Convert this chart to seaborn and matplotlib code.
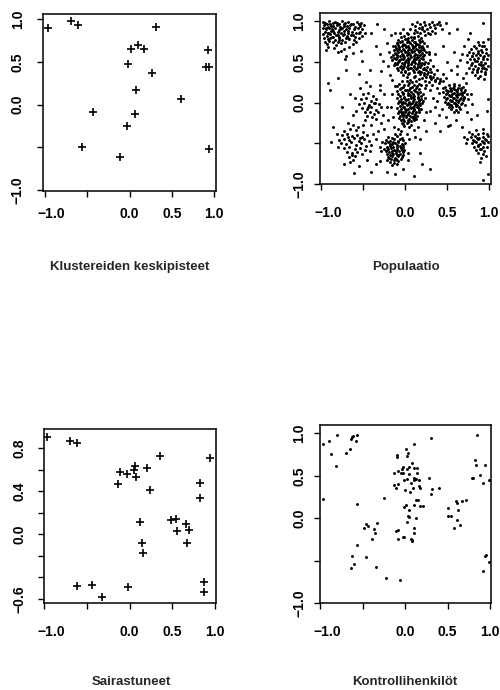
import matplotlib
matplotlib.use("Agg")
import matplotlib.pyplot as plt
import seaborn as sns
import pandas as pd
from matplotlib.transforms import ScaledTranslation

# ---------------- data ----------------
centers_x = [-0.96, -0.69, -0.61, 0.31, 0.10, 0.02, 0.17, 0.92, -0.02, 0.26,
             0.90, 0.94, 0.08, 0.61, -0.43, 0.06, -0.03, -0.56, 0.94, -0.11]
centers_y = [0.90, 0.98, 0.93, 0.91, 0.70, 0.65, 0.65, 0.64, 0.47, 0.37,
             0.44, 0.44, 0.17, 0.07, -0.09, -0.11, -0.25, -0.50, -0.52, -0.61]

cases_x = [-0.96, -0.70, -0.62, 0.35, 0.94, 0.06, 0.05, -0.11, -0.03, 0.20, 0.07,
           -0.13, 0.82, 0.24, 0.82, 0.12, 0.48, 0.54, 0.55, 0.66, 0.69, 0.14,
           0.16, 0.67, -0.62, -0.44, -0.32, -0.02, 0.87, 0.87]
cases_y = [0.91, 0.87, 0.85, 0.73, 0.71, 0.64, 0.60, 0.58, 0.56, 0.62, 0.53,
           0.47, 0.48, 0.41, 0.34, 0.11, 0.13, 0.14, 0.03, 0.10, 0.04, -0.08,
           -0.17, -0.08, -0.48, -0.47, -0.58, -0.49, -0.44, -0.54]

controls = [
    (-0.96, 0.87), (-0.90, 0.91), (-0.87, 0.76), (-0.80, 0.98), (-0.81, 0.62),
    (-0.69, 0.77), (-0.65, 0.82), (-0.64, 0.94), (-0.62, 0.96), (-0.61, 0.97),
    (-0.58, 0.91), (-0.56, 0.98), (-0.96, 0.23), (-0.56, 0.17), (-0.25, 0.24),
    (-0.48, -0.11), (-0.46, -0.07), (-0.43, -0.09), (-0.36, -0.13), (-0.33, -0.06),
    (-0.35, -0.18), (-0.39, -0.25), (-0.57, -0.32), (-0.62, -0.45), (-0.60, -0.54),
    (-0.46, -0.46), (-0.64, -0.59), (-0.34, -0.58), (-0.23, -0.70), (-0.06, -0.73),
    (0.10, 0.88), (0.30, 0.95), (0.01, 0.82), (0.03, 0.77), (0.02, 0.73),
    (-0.10, 0.75), (-0.09, 0.72), (-0.04, 0.58), (-0.02, 0.61), (0.02, 0.58),
    (0.05, 0.61), (0.08, 0.65), (0.11, 0.59), (0.14, 0.59), (0.14, 0.53),
    (-0.13, 0.53), (-0.08, 0.56), (-0.05, 0.53), (-0.03, 0.53), (0.05, 0.52),
    (0.10, 0.47), (0.13, 0.46), (0.16, 0.45), (-0.13, 0.39), (-0.11, 0.36),
    (-0.08, 0.40), (-0.01, 0.45), (0.02, 0.46), (0.07, 0.42), (0.11, 0.45),
    (0.00, 0.33), (0.06, 0.31), (0.09, 0.36), (0.16, 0.38), (0.18, 0.36),
    (0.28, 0.47), (0.30, 0.29), (0.32, 0.35), (0.40, 0.36), (-0.01, 0.13),
    (0.01, 0.16), (0.05, 0.10), (0.11, 0.16), (0.13, 0.21), (0.15, 0.22),
    (0.18, 0.15), (0.21, 0.15), (0.03, 0.03), (0.05, 0.01), (0.02, -0.04),
    (0.13, 0.00), (-0.11, -0.15), (-0.08, -0.14), (-0.08, -0.25), (-0.03, -0.22),
    (-0.01, -0.22), (0.07, -0.24), (0.08, -0.27), (0.11, -0.17), (0.11, -0.12),
    (0.08, -0.26), (0.51, 0.12), (0.50, 0.03), (0.54, 0.03), (0.60, 0.20),
    (0.61, 0.18), (0.62, 0.10), (0.67, 0.20), (0.72, 0.22), (0.61, -0.02),
    (0.58, -0.11), (0.64, -0.08), (0.84, 0.98), (0.82, 0.69), (0.83, 0.63),
    (0.94, 0.63), (0.79, 0.48), (0.80, 0.47), (0.88, 0.51), (0.92, 0.41),
    (0.99, 0.45), (0.94, -0.45), (0.95, -0.43), (0.99, -0.52), (0.92, -0.62),
]

pop_nw = [
    (-0.97, 0.99), (-0.93, 0.97), (-0.90, 1.00), (-0.86, 0.98), (-0.83, 0.99), (-0.79, 0.96),
    (-0.75, 1.00), (-0.71, 0.98), (-0.68, 0.99), (-0.62, 0.97), (-0.57, 0.99), (-0.52, 0.98),
    (-0.96, 0.95), (-0.92, 0.93), (-0.89, 0.96), (-0.85, 0.94), (-0.81, 0.95), (-0.77, 0.93),
    (-0.73, 0.96), (-0.69, 0.94), (-0.65, 0.95), (-0.60, 0.93), (-0.55, 0.96), (-0.49, 0.95),
    (-0.98, 0.92), (-0.94, 0.90), (-0.90, 0.92), (-0.87, 0.90), (-0.83, 0.91), (-0.79, 0.89),
    (-0.75, 0.92), (-0.70, 0.90), (-0.66, 0.91), (-0.61, 0.90), (-0.56, 0.92), (-0.51, 0.90),
    (-0.95, 0.87), (-0.92, 0.86), (-0.88, 0.88), (-0.84, 0.85), (-0.80, 0.87), (-0.76, 0.86),
    (-0.72, 0.88), (-0.68, 0.85), (-0.63, 0.87), (-0.58, 0.86), (-0.53, 0.87), (-0.48, 0.85),
    (-0.97, 0.84), (-0.93, 0.82), (-0.89, 0.84), (-0.86, 0.81), (-0.82, 0.83), (-0.78, 0.81),
    (-0.74, 0.83), (-0.69, 0.82), (-0.64, 0.83), (-0.59, 0.81), (-0.51, 0.82),
    (-0.96, 0.79), (-0.91, 0.78), (-0.87, 0.80), (-0.83, 0.77), (-0.79, 0.79), (-0.75, 0.77),
    (-0.70, 0.79), (-0.66, 0.78), (-0.61, 0.77), (-0.55, 0.79),
    (-0.95, 0.75), (-0.90, 0.76), (-0.85, 0.74), (-0.80, 0.75), (-0.71, 0.75), (-0.62, 0.72),
    (-0.93, 0.72), (-0.82, 0.71), (-0.76, 0.73), (-0.58, 0.74),
    (-0.91, 0.68), (-0.84, 0.67), (-0.73, 0.66), (-0.66, 0.68),
    (-0.94, 0.64), (-0.80, 0.62), (-0.62, 0.61), (-0.76, 0.63), (-0.70, 0.57),
    (-0.71, 0.53), (-0.52, 0.63), (-0.51, 0.51), (-0.33, 0.96), (-0.91, 0.24), (-0.89, 0.15),
    (-0.95, 0.975), (-0.88, 0.945), (-0.81, 0.975), (-0.73, 0.945), (-0.64, 0.965), (-0.94, 0.915),
    (-0.85, 0.885), (-0.77, 0.905), (-0.68, 0.875), (-0.91, 0.855), (-0.80, 0.825), (-0.72, 0.845),
    (-0.62, 0.825), (-0.89, 0.795), (-0.78, 0.765), (-0.68, 0.795), (-0.54, 0.935), (-0.55, 0.855),
]

pop_b = [
    (-0.05, 0.80), (-0.01, 0.82), (0.03, 0.79), (0.07, 0.81), (0.11, 0.80), (0.15, 0.82), (0.19, 0.79),
    (-0.08, 0.77), (-0.04, 0.76), (0.00, 0.78), (0.04, 0.76), (0.08, 0.77), (0.12, 0.75), (0.16, 0.77),
    (0.20, 0.76), (-0.10, 0.73), (-0.06, 0.74), (-0.02, 0.72), (0.02, 0.74), (0.06, 0.73), (0.10, 0.74),
    (0.14, 0.72), (0.18, 0.74), (0.22, 0.73), (-0.12, 0.70), (-0.08, 0.71), (-0.04, 0.69), (0.00, 0.71),
    (0.04, 0.70), (0.08, 0.71), (0.12, 0.69), (0.16, 0.71), (0.20, 0.70), (-0.11, 0.67), (-0.07, 0.68),
    (-0.03, 0.66), (0.01, 0.68), (0.05, 0.67), (0.09, 0.68), (0.13, 0.66), (0.17, 0.68), (0.21, 0.67),
    (-0.13, 0.64), (-0.09, 0.65), (-0.05, 0.63), (-0.01, 0.65), (0.03, 0.64), (0.07, 0.65), (0.11, 0.63),
    (0.15, 0.65), (0.19, 0.64), (0.23, 0.65), (-0.12, 0.61), (-0.08, 0.62), (-0.04, 0.60), (0.00, 0.62),
    (0.04, 0.61), (0.08, 0.62), (0.12, 0.60), (0.16, 0.62), (0.20, 0.61), (-0.14, 0.58), (-0.10, 0.59),
    (-0.06, 0.57), (-0.02, 0.59), (0.02, 0.58), (0.06, 0.59), (0.10, 0.57), (0.14, 0.59), (0.18, 0.58),
    (0.22, 0.59), (-0.13, 0.55), (-0.09, 0.56), (-0.05, 0.54), (-0.01, 0.56), (0.03, 0.55), (0.07, 0.56),
    (0.11, 0.54), (0.15, 0.56), (0.19, 0.55), (-0.15, 0.52), (-0.11, 0.53), (-0.07, 0.51), (-0.03, 0.53),
    (0.01, 0.52), (0.05, 0.53), (0.09, 0.51), (0.13, 0.53), (0.17, 0.52), (0.21, 0.53), (-0.12, 0.49),
    (-0.08, 0.50), (-0.04, 0.48), (0.00, 0.50), (0.04, 0.49), (0.08, 0.50), (0.12, 0.48), (0.16, 0.50),
    (0.20, 0.49), (0.24, 0.50), (-0.13, 0.46), (-0.09, 0.47), (-0.05, 0.45), (-0.01, 0.47), (0.03, 0.46),
    (0.07, 0.47), (0.11, 0.45), (0.15, 0.47), (0.19, 0.46), (0.23, 0.47), (-0.10, 0.43), (-0.06, 0.44),
    (-0.02, 0.42), (0.02, 0.44), (0.06, 0.43), (0.10, 0.44), (0.14, 0.42), (0.18, 0.44), (0.22, 0.43),
    (0.26, 0.44), (-0.08, 0.40), (-0.04, 0.41), (0.00, 0.39), (0.04, 0.41), (0.09, 0.40), (0.13, 0.41),
    (0.17, 0.39), (0.21, 0.41), (0.25, 0.40), (0.29, 0.41), (-0.05, 0.37), (0.00, 0.38), (0.05, 0.36),
    (0.10, 0.38), (0.15, 0.37), (0.19, 0.38), (0.23, 0.36), (0.27, 0.38), (0.31, 0.37), (-0.02, 0.34),
    (0.04, 0.35), (0.12, 0.33), (0.18, 0.35), (0.22, 0.34), (0.26, 0.35), (0.30, 0.33), (0.34, 0.35),
    (0.02, 0.31), (0.10, 0.32), (0.20, 0.30), (0.25, 0.32), (0.29, 0.31), (0.33, 0.32), (0.38, 0.30),
    (0.06, 0.28), (0.16, 0.29), (0.24, 0.27), (0.31, 0.29), (0.36, 0.28), (0.42, 0.29), (0.28, 0.25),
    (0.35, 0.26), (0.40, 0.24), (0.45, 0.26), (-0.22, 0.73), (-0.26, 0.51), (-0.28, 0.39), (-0.19, 0.62),
    (-0.20, 0.45), (-0.17, 0.83), (-0.12, 0.86), (0.26, 0.70), (0.28, 0.60), (0.30, 0.52), (0.33, 0.45),
    (0.38, 0.40), (0.45, 0.35), (0.48, 0.30), (-0.18, 0.34), (-0.15, 0.28),
    (-0.09, 0.735), (-0.03, 0.705), (0.05, 0.745), (0.13, 0.715), (0.19, 0.685), (-0.07, 0.655),
    (0.01, 0.625), (0.09, 0.665), (0.17, 0.635), (-0.11, 0.595), (-0.03, 0.575), (0.05, 0.605),
    (0.13, 0.545), (0.21, 0.575), (-0.07, 0.525), (0.03, 0.505), (0.11, 0.515), (0.17, 0.485),
    (-0.11, 0.475), (-0.01, 0.455), (0.07, 0.425), (0.15, 0.445), (0.23, 0.415), (0.02, 0.775),
    (0.10, 0.795), (-0.14, 0.69), (0.25, 0.62), (-0.17, 0.56), (0.27, 0.48),
]

pop_top = [
    (0.10, 0.85), (0.14, 0.87), (0.18, 0.86), (0.22, 0.88), (0.26, 0.90), (0.30, 0.93), (0.34, 0.95),
    (0.38, 0.97), (0.16, 0.91), (0.20, 0.93), (0.24, 0.95), (0.28, 0.97), (0.32, 0.99), (0.36, 0.92),
    (0.40, 0.99), (0.12, 0.94), (0.06, 0.90), (0.02, 0.86), (-0.02, 0.90), (0.08, 0.97), (0.27, 0.86),
    (0.32, 0.88), (0.22, 0.99), (0.42, 0.95), (0.36, 0.86), (0.44, 0.90), (0.18, 0.97), (0.14, 0.99),
    (0.30, 0.84), (0.24, 0.83), (0.04, 0.84), (-0.06, 0.85), (0.12, 0.89), (0.20, 0.90),
]

pop_d = [
    (-0.04, 0.26), (0.02, 0.27), (0.08, 0.25), (0.13, 0.27), (-0.07, 0.23), (-0.01, 0.22), (0.05, 0.24),
    (0.10, 0.22), (0.16, 0.23), (-0.09, 0.20), (-0.03, 0.19), (0.03, 0.21), (0.08, 0.19), (0.14, 0.20),
    (0.19, 0.21), (-0.06, 0.17), (0.00, 0.16), (0.06, 0.18), (0.11, 0.16), (0.17, 0.17), (-0.10, 0.14),
    (-0.04, 0.13), (0.02, 0.15), (0.07, 0.13), (0.12, 0.14), (0.18, 0.13), (-0.08, 0.11), (-0.02, 0.10),
    (0.04, 0.12), (0.09, 0.10), (0.15, 0.11), (0.21, 0.10), (-0.06, 0.08), (-0.01, 0.07), (0.03, 0.09),
    (0.07, 0.07), (0.11, 0.08), (0.15, 0.07), (0.19, 0.08), (-0.09, 0.05), (-0.05, 0.04), (-0.01, 0.06),
    (0.03, 0.04), (0.07, 0.05), (0.11, 0.04), (0.15, 0.06), (0.19, 0.04), (-0.07, 0.02), (-0.03, 0.01),
    (0.01, 0.03), (0.05, 0.01), (0.09, 0.02), (0.13, 0.01), (0.17, 0.03), (0.21, 0.02), (-0.08, -0.01),
    (-0.04, -0.02), (0.00, 0.00), (0.04, -0.02), (0.08, -0.01), (0.12, -0.02), (0.16, 0.00), (0.20, -0.01),
    (-0.06, -0.04), (-0.02, -0.05), (0.02, -0.03), (0.06, -0.05), (0.10, -0.04), (0.14, -0.05),
    (0.18, -0.03), (-0.09, -0.07), (-0.05, -0.08), (-0.01, -0.06), (0.03, -0.08), (0.07, -0.07),
    (0.11, -0.08), (0.15, -0.06), (0.19, -0.08), (-0.07, -0.10), (-0.03, -0.11), (0.01, -0.09),
    (0.05, -0.11), (0.09, -0.10), (0.13, -0.11), (0.17, -0.09), (-0.08, -0.13), (-0.04, -0.14),
    (0.00, -0.12), (0.04, -0.14), (0.08, -0.13), (0.12, -0.14), (0.16, -0.12), (-0.06, -0.16),
    (-0.02, -0.17), (0.02, -0.15), (0.06, -0.17), (0.10, -0.16), (0.14, -0.17), (-0.07, -0.19),
    (-0.03, -0.20), (0.01, -0.18), (0.05, -0.20), (0.09, -0.19), (0.13, -0.20), (-0.05, -0.22),
    (-0.01, -0.23), (0.03, -0.21), (0.07, -0.23), (0.11, -0.22), (-0.03, -0.26), (0.02, -0.25),
    (0.07, -0.27), (-0.01, -0.29), (0.05, -0.30), (-0.15, 0.10), (-0.17, -0.05), (-0.14, -0.18),
    (0.24, 0.05), (0.25, -0.12), (0.22, -0.22), (0.15, -0.30), (0.30, 0.15), (-0.12, 0.20), (0.24, 0.18),
    (-0.13, -0.30), (0.10, -0.34), (-0.05, -0.35), (0.02, -0.38), (0.12, -0.42), (-0.08, -0.32),
    (-0.05, 0.185), (0.05, 0.155), (0.13, 0.175), (-0.03, 0.115), (0.06, 0.095), (0.14, 0.125),
    (0.00, 0.045), (0.09, 0.065), (0.17, 0.015), (-0.05, 0.005), (0.06, -0.015), (0.14, -0.035),
    (0.00, -0.075), (0.09, -0.055), (0.17, -0.075), (-0.05, -0.115), (0.03, -0.125), (0.11, -0.095),
    (-0.01, -0.155), (0.08, -0.175), (0.12, -0.185), (0.04, -0.235), (-0.04, -0.245),
]

pop_e = [
    (-0.12, -0.38), (-0.06, -0.39), (-0.20, -0.42), (-0.15, -0.43), (-0.10, -0.41), (-0.04, -0.43),
    (-0.23, -0.46), (-0.18, -0.47), (-0.13, -0.45), (-0.08, -0.47), (-0.03, -0.46), (-0.24, -0.50),
    (-0.20, -0.49), (-0.16, -0.51), (-0.12, -0.50), (-0.08, -0.49), (-0.04, -0.51), (0.00, -0.50),
    (-0.22, -0.54), (-0.18, -0.53), (-0.14, -0.55), (-0.10, -0.54), (-0.06, -0.53), (-0.02, -0.55),
    (-0.25, -0.57), (-0.21, -0.58), (-0.17, -0.56), (-0.13, -0.58), (-0.09, -0.57), (-0.05, -0.56),
    (-0.01, -0.58), (-0.23, -0.60), (-0.19, -0.61), (-0.15, -0.60), (-0.11, -0.62), (-0.07, -0.60),
    (-0.03, -0.61), (-0.22, -0.63), (-0.18, -0.64), (-0.14, -0.63), (-0.10, -0.65), (-0.06, -0.63),
    (-0.02, -0.64), (-0.20, -0.67), (-0.16, -0.66), (-0.12, -0.68), (-0.08, -0.66), (-0.04, -0.67),
    (-0.21, -0.70), (-0.17, -0.69), (-0.13, -0.71), (-0.09, -0.70), (-0.05, -0.69), (-0.18, -0.73),
    (-0.13, -0.74), (-0.08, -0.72), (-0.15, -0.77), (-0.09, -0.76), (-0.28, -0.60), (-0.30, -0.72),
    (0.04, -0.62), (0.05, -0.45), (-0.12, -0.88), (0.10, -0.90), (0.30, -0.82), (-0.34, -0.76),
    (-0.27, -0.48), (0.03, -0.70),
    (-0.18, -0.505), (-0.10, -0.525), (-0.02, -0.515), (-0.20, -0.575), (-0.11, -0.595),
    (-0.04, -0.585), (-0.16, -0.625), (-0.08, -0.645), (-0.19, -0.685), (-0.11, -0.695),
    (-0.14, -0.48), (-0.06, -0.45),
]

pop_f = [
    (-0.50, 0.10), (-0.44, 0.12), (-0.38, 0.08), (-0.52, 0.04), (-0.46, 0.05), (-0.40, 0.02),
    (-0.34, 0.04), (-0.55, -0.02), (-0.49, -0.01), (-0.43, -0.03), (-0.37, -0.01), (-0.31, -0.02),
    (-0.51, -0.07), (-0.45, -0.08), (-0.40, -0.06), (-0.35, -0.09), (-0.29, -0.06), (-0.48, -0.12),
    (-0.42, -0.11), (-0.37, -0.14), (-0.32, -0.12), (-0.45, -0.16), (-0.39, -0.18), (-0.34, -0.20),
    (-0.58, -0.10), (-0.60, 0.05), (-0.42, 0.20), (-0.46, 0.25), (-0.53, 0.18), (-0.30, 0.15),
    (-0.26, -0.15), (-0.28, -0.25), (-0.47, -0.22), (-0.40, -0.27), (-0.36, 0.00), (-0.44, -0.05),
]

pop_g = [
    (-0.72, -0.35), (-0.65, -0.33), (-0.58, -0.34), (-0.50, -0.36), (-0.75, -0.40), (-0.69, -0.39),
    (-0.63, -0.41), (-0.57, -0.40), (-0.51, -0.42), (-0.45, -0.40), (-0.73, -0.45), (-0.67, -0.46),
    (-0.61, -0.44), (-0.55, -0.47), (-0.49, -0.45), (-0.43, -0.47), (-0.76, -0.50), (-0.70, -0.51),
    (-0.64, -0.49), (-0.58, -0.52), (-0.52, -0.50), (-0.46, -0.53), (-0.72, -0.56), (-0.66, -0.55),
    (-0.60, -0.57), (-0.54, -0.56), (-0.48, -0.58), (-0.69, -0.61), (-0.63, -0.62), (-0.57, -0.61),
    (-0.51, -0.63), (-0.66, -0.67), (-0.59, -0.66), (-0.62, -0.71), (-0.81, -0.39), (-0.63, -0.65),
    (-0.65, -0.73), (-0.61, -0.86), (-0.40, -0.52), (-0.42, -0.60), (-0.80, -0.55), (-0.78, -0.46),
    (-0.56, -0.30), (-0.62, -0.28), (-0.38, -0.38), (-0.68, -0.42), (-0.54, -0.43),
]

pop_h = [
    (0.52, 0.22), (0.58, 0.23), (0.64, 0.21), (0.47, 0.19), (0.53, 0.18), (0.58, 0.20), (0.63, 0.18),
    (0.69, 0.19), (0.49, 0.16), (0.54, 0.15), (0.58, 0.17), (0.62, 0.15), (0.66, 0.16), (0.71, 0.15),
    (0.45, 0.13), (0.50, 0.12), (0.54, 0.14), (0.58, 0.12), (0.62, 0.13), (0.66, 0.12), (0.70, 0.13),
    (0.48, 0.10), (0.52, 0.09), (0.56, 0.11), (0.60, 0.09), (0.64, 0.10), (0.68, 0.09), (0.73, 0.10),
    (0.46, 0.07), (0.50, 0.06), (0.54, 0.08), (0.58, 0.06), (0.62, 0.07), (0.66, 0.06), (0.70, 0.07),
    (0.49, 0.04), (0.53, 0.03), (0.57, 0.05), (0.61, 0.03), (0.65, 0.04), (0.69, 0.03), (0.75, 0.04),
    (0.47, 0.01), (0.51, 0.00), (0.55, 0.02), (0.59, 0.00), (0.63, 0.01), (0.67, 0.00), (0.50, -0.02),
    (0.54, -0.03), (0.58, -0.01), (0.62, -0.03), (0.66, -0.02), (0.71, -0.03), (0.52, -0.05),
    (0.56, -0.06), (0.60, -0.04), (0.64, -0.06), (0.55, -0.08), (0.60, -0.09), (0.65, -0.08),
    (0.58, -0.11), (0.63, -0.12), (0.42, 0.26), (0.40, 0.12), (0.38, 0.02), (0.78, 0.10), (0.80, -0.02),
    (0.72, 0.24), (0.51, -0.29), (0.53, -0.28), (0.97, -0.10), (0.98, 0.04), (0.74, -0.12),
    (0.44, -0.08), (0.35, -0.05),
    (0.51, 0.145), (0.60, 0.155), (0.68, 0.115), (0.53, 0.085), (0.62, 0.095), (0.70, 0.055),
    (0.56, 0.025), (0.64, 0.035), (0.52, -0.015), (0.61, -0.025), (0.57, 0.185), (0.66, 0.185),
]

pop_i = [
    (0.86, 0.74), (0.92, 0.75), (0.82, 0.70), (0.88, 0.71), (0.94, 0.69), (0.78, 0.66), (0.84, 0.67),
    (0.90, 0.65), (0.96, 0.66), (0.76, 0.62), (0.81, 0.61), (0.86, 0.63), (0.91, 0.62), (0.96, 0.61),
    (0.73, 0.58), (0.79, 0.57), (0.84, 0.59), (0.89, 0.58), (0.94, 0.57), (0.98, 0.59), (0.77, 0.54),
    (0.82, 0.53), (0.87, 0.55), (0.92, 0.54), (0.97, 0.53), (0.74, 0.50), (0.80, 0.49), (0.85, 0.51),
    (0.90, 0.50), (0.95, 0.49), (0.78, 0.46), (0.83, 0.45), (0.88, 0.47), (0.93, 0.46), (0.98, 0.45),
    (0.76, 0.42), (0.81, 0.41), (0.86, 0.43), (0.91, 0.42), (0.96, 0.41), (0.80, 0.38), (0.85, 0.37),
    (0.90, 0.39), (0.95, 0.38), (0.83, 0.34), (0.89, 0.33), (0.95, 0.35), (0.87, 0.30), (0.94, 0.29),
    (0.93, 0.98), (0.77, 0.86), (0.68, 0.60), (0.65, 0.52), (0.62, 0.45), (0.70, 0.70), (0.72, 0.36),
    (0.69, 0.30), (0.75, 0.78), (0.98, 0.78),
    (0.87, 0.605), (0.93, 0.555), (0.83, 0.515), (0.90, 0.465), (0.85, 0.405), (0.94, 0.425),
    (0.80, 0.575), (0.91, 0.695),
]

pop_j = [
    (0.84, -0.34), (0.92, -0.33), (0.80, -0.38), (0.86, -0.39), (0.92, -0.37), (0.97, -0.38),
    (0.78, -0.42), (0.83, -0.41), (0.88, -0.43), (0.93, -0.42), (0.98, -0.41), (0.81, -0.46),
    (0.86, -0.45), (0.91, -0.47), (0.96, -0.46), (0.79, -0.50), (0.84, -0.49), (0.89, -0.51),
    (0.94, -0.50), (0.98, -0.49), (0.82, -0.54), (0.87, -0.53), (0.92, -0.55), (0.97, -0.54),
    (0.84, -0.58), (0.89, -0.57), (0.94, -0.59), (0.87, -0.62), (0.93, -0.63), (0.70, -0.42),
    (0.72, -0.50), (0.74, -0.45), (0.89, -0.73), (0.99, -0.88), (0.93, -0.95), (0.90, -0.68),
    (0.96, -0.66), (0.76, -0.36),
    (0.85, -0.435), (0.92, -0.485), (0.86, -0.515), (0.95, -0.445), (0.90, -0.575), (0.82, -0.475),
]

pop_sparse = [
    (-0.30, 0.22), (-0.25, 0.10), (-0.22, -0.05), (-0.20, -0.22), (-0.25, -0.32), (-0.32, -0.35),
    (-0.35, -0.45), (-0.30, -0.55), (-0.50, -0.28), (-0.68, -0.25), (-0.85, -0.30), (-0.88, -0.48),
    (-0.72, -0.75), (-0.55, -0.78), (-0.45, -0.70), (0.18, -0.45), (0.25, -0.35), (0.35, -0.25),
    (0.30, -0.10), (0.33, 0.05), (0.40, -0.15), (0.45, 0.18), (0.48, -0.18), (0.42, -0.35),
    (0.60, -0.22), (0.68, -0.30), (0.78, -0.20), (0.85, -0.15), (0.62, 0.35), (0.55, 0.40),
    (0.50, 0.50), (0.58, 0.62), (0.45, 0.70), (0.52, 0.85), (0.62, 0.90), (0.48, 0.98),
    (-0.30, 0.60), (-0.35, 0.70), (-0.40, 0.85), (-0.25, 0.90), (-0.42, 0.40), (-0.55, 0.35),
    (-0.70, 0.40), (-0.80, 0.30), (-0.65, 0.10), (-0.75, -0.05), (-0.62, -0.15), (0.28, 0.62),
    (0.35, 0.60), (0.25, 0.22), (0.32, 0.22), (0.38, 0.18), (-0.02, -0.82), (0.18, -0.62),
    (0.20, -0.75), (-0.40, -0.85), (-0.22, -0.85),
]

xticks = [-1.0, -0.5, 0.0, 0.5, 1.0]
xtick_labels = ["\u22121.0", "", "0.0", "0.5", "1.0"]
yticks_main = [-1.0, -0.5, 0.0, 0.5, 1.0]
ytick_labels_main = ["\u22121.0", "", "0.0", "0.5", "1.0"]
yticks_cases = [-0.6, -0.4, -0.2, 0.0, 0.2, 0.4, 0.6, 0.8]
ytick_labels_cases = ["\u22120.6", "", "", "0.0", "", "0.4", "", "0.8"]

titles = ["Klustereiden keskipisteet", "Populaatio", "Sairastuneet", "Kontrollihenkil\u00f6t"]

# ---------------- frames ----------------
df_centers = pd.DataFrame({"x": centers_x, "y": centers_y})
df_cases = pd.DataFrame({"x": cases_x, "y": cases_y})
df_controls = pd.DataFrame(controls, columns=["x", "y"])
df_pop = pd.DataFrame(pop_nw + pop_b + pop_top + pop_d + pop_e + pop_f + pop_g + pop_h + pop_i
                      + pop_j + pop_sparse, columns=["x", "y"])

# ---------------- figure ----------------
sns.set_theme(style="ticks")
plt.rcParams["font.family"] = ["Liberation Sans", "DejaVu Sans"]
plt.rcParams["font.weight"] = "bold"

W, H = 500, 690
fig = plt.figure(figsize=(W / 100, H / 100), dpi=100)


def make_ax(l, t, r, b):
    return fig.add_axes([l / W, 1 - b / H, (r - l) / W, (b - t) / H])


ax_tl = make_ax(43, 14, 216, 191)
ax_tr = make_ax(320, 13, 491, 184)
ax_bl = make_ax(44, 429, 216, 603)
ax_br = make_ax(320, 425, 491, 603)

sns.scatterplot(data=df_centers, x="x", y="y", marker="+", s=26, color="black",
                linewidth=1.2, ax=ax_tl)
sns.scatterplot(data=df_pop, x="x", y="y", marker="o", s=4.5, color="black",
                linewidth=0, ax=ax_tr)
sns.scatterplot(data=df_cases, x="x", y="y", marker="+", s=26, color="black",
                linewidth=1.2, ax=ax_bl)
sns.scatterplot(data=df_controls, x="x", y="y", marker="o", s=4.5, color="black",
                linewidth=0, ax=ax_br)


def style(ax, xlim, ylim, yt, ytl, xpad, ypad):
    ax.set_xlim(*xlim)
    ax.set_ylim(*ylim)
    ax.set_xticks(xticks)
    ax.set_xticklabels(xtick_labels)
    ax.set_yticks(yt)
    ax.set_yticklabels(ytl)
    ax.set_xlabel("")
    ax.set_ylabel("")
    for sp in ax.spines.values():
        sp.set_visible(True)
        sp.set_linewidth(1.1)
        sp.set_color("black")
    ax.tick_params(direction="out", length=4, width=1, colors="black", labelsize=10)
    ax.tick_params(axis="x", pad=xpad)
    ax.tick_params(axis="y", pad=ypad, labelrotation=90)
    for lab in ax.get_yticklabels():
        lab.set_va("center")
    # the "-1.0" label sits a little right of its tick in the reference
    t0 = ax.xaxis.get_major_ticks()[0]
    t0.label1.set_transform(t0.label1.get_transform()
                            + ScaledTranslation(5 / 72, 0, fig.dpi_scale_trans))


style(ax_tl, (-1.02, 1.02), (-1.01, 1.06), yticks_main, ytick_labels_main, 7.5, 9)
style(ax_tr, (-1.01, 1.02), (-0.99, 1.10), yticks_main, ytick_labels_main, 12, 6)
style(ax_bl, (-1.0, 1.01), (-0.64, 0.98), yticks_cases, ytick_labels_cases, 12, 8.5)
style(ax_br, (-1.0, 1.01), (-1.0, 1.10), yticks_main, ytick_labels_main, 12, 6)

fig.text(130 / W, 1 - 267 / H, titles[0], ha="center", va="center", fontsize=9.5)
fig.text(406 / W, 1 - 267 / H, titles[1], ha="center", va="center", fontsize=9.5)
fig.text(131 / W, 1 - 682 / H, titles[2], ha="center", va="center", fontsize=9.5)
fig.text(405 / W, 1 - 682 / H, titles[3], ha="center", va="center", fontsize=9.5)

fig.savefig("out.png", dpi=100)
